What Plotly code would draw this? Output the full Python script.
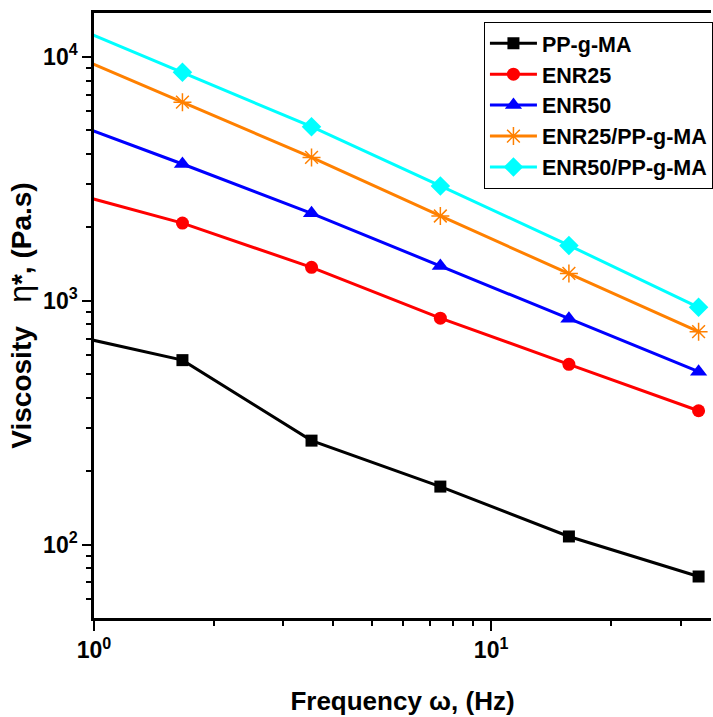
import plotly.graph_objects as go

freq = [0.79, 1.67, 3.53, 7.45, 15.7, 33.3]
pp_g_ma = [750, 571, 267, 173, 108, 74]
enr25 = [2900, 2083, 1372, 849, 549, 354]
enr50 = [5730, 3640, 2285, 1388, 844, 512]
enr25_ppgma = [11000, 6530, 3875, 2228, 1295, 747]
enr50_ppgma = [14400, 8650, 5180, 2960, 1688, 940]

names = ["PP-g-MA", "ENR25", "ENR50", "ENR25/PP-g-MA", "ENR50/PP-g-MA"]
series = [pp_g_ma, enr25, enr50, enr25_ppgma, enr50_ppgma]
colors = ["#000000", "#FF0000", "#0000FF", "#FF8000", "#00FFFF"]
symbols = ["square", "circle", "triangle-up", "asterisk-open", "diamond"]
msizes = [12, 13, 15, 15, 15]

x_major = [1, 10]
x_major_text = ["10<sup>0</sup>", "10<sup>1</sup>"]
x_minor = [2, 3, 4, 5, 6, 7, 8, 9, 20, 30]
y_major = [100, 1000, 10000]
y_major_text = ["10<sup>2</sup>", "10<sup>3</sup>", "10<sup>4</sup>"]
y_minor = [60, 70, 80, 90, 200, 300, 400, 500, 600, 700, 800, 900,
           2000, 3000, 4000, 5000, 6000, 7000, 8000, 9000]

FONT = "Liberation Sans, Arial, sans-serif"

fig = go.Figure()
for name, ys, c, s, ms in zip(names, series, colors, symbols, msizes):
    fig.add_trace(go.Scatter(
        x=freq, y=ys, name=name, mode="lines+markers",
        line=dict(color=c, width=3),
        marker=dict(symbol=s, size=ms, color=c, line=dict(color=c, width=1.5 if s == "asterisk-open" else 0)),
    ))

fig.update_layout(
    width=713, height=717,
    margin=dict(l=94, r=0, t=13, b=99),
    plot_bgcolor="white", paper_bgcolor="white",
    font=dict(family=FONT, color="black", size=22, weight="bold"),
    showlegend=True,
    legend=dict(
        x=0.632, y=0.9856, xanchor="left", yanchor="top",
        bordercolor="black", borderwidth=1, bgcolor="white",
        font=dict(family=FONT, size=21.5, color="black", weight="bold"),
        itemwidth=47, tracegroupgap=0,
    ),
)

fig.update_xaxes(
    type="log", range=[0, 1.5537],
    showgrid=False, zeroline=False,
    showline=True, linecolor="black", linewidth=2.5, mirror=True,
    ticks="outside", ticklen=10, tickwidth=2, tickcolor="black",
    tickvals=x_major, ticktext=x_major_text,
    tickfont=dict(family=FONT, size=23, weight="bold"),
    minor=dict(ticks="outside", ticklen=5, tickwidth=2, tickcolor="black", tickvals=x_minor, showgrid=False),
    title=dict(text="Frequency ω, (Hz)", font=dict(family=FONT, size=26, weight="bold"), standoff=30),
)
fig.update_yaxes(
    type="log", range=[1.699, 4.1805],
    showgrid=False, zeroline=False,
    showline=True, linecolor="black", linewidth=2.5, mirror=False,
    ticks="outside", ticklen=9, tickwidth=2, tickcolor="black",
    tickvals=y_major, ticktext=y_major_text,
    tickfont=dict(family=FONT, size=23, weight="bold"),
    minor=dict(ticks="outside", ticklen=5, tickwidth=2, tickcolor="black", tickvals=y_minor, showgrid=False),
    title=dict(text="Viscosity   <span style=\"font-size:32px;font-weight:normal\">η</span>*, (Pa.s)",
               font=dict(family=FONT, size=28, weight="bold"), standoff=4),
)

fig.write_html("out.html")
